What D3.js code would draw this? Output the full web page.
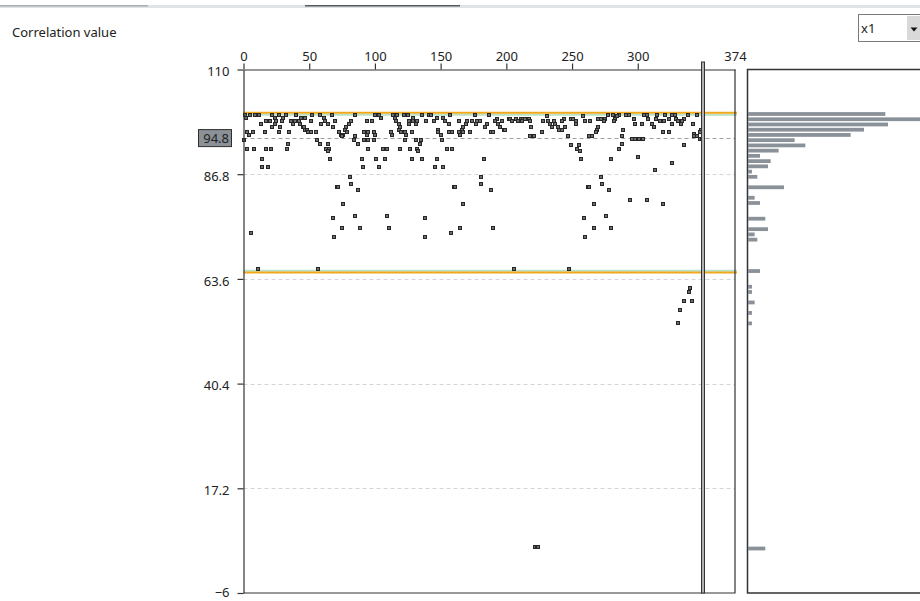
<!DOCTYPE html>
<html>
<head>
<meta charset="utf-8">
<title>Correlation value</title>
<script src="https://cdn.jsdelivr.net/npm/d3@7"></script>
<style>
  body { margin: 0; background: #fff; }
  svg text { font-family: "Noto Sans", "DejaVu Sans", sans-serif; fill: #222; }
</style>
</head>
<body>
<svg id="mainsvg" width="920" height="601"></svg>
<script>
// ---- data ----
const xTicks = [0, 50, 100, 150, 200, 250, 300, 374];
const yTicks = [110, 86.8, 63.6, 40.4, 17.2, -6];
const cursorValue = 94.8;
const cursorIndex = 350;
const upperLimit = 100.4, upperLimitGreen = 100.0;
const lowerLimit = 65.0, lowerLimitGreen = 65.4;

// scatter points: [sample index, correlation value]
const scatterPoints = [
  // 0 - 190
  [1,99.84],[5,99.84],[9,99.84],[12,99.84],[22,99.84],[27,99.84],[32,99.84],[40,99.84],[52,99.84],[58,99.84],[67,99.84],[85,99.84],
  [100,99.84],[103,99.84],[114,99.84],[117,99.84],[122,99.84],[125,99.84],[136,99.84],[141,99.84],[143,99.84],[157,99.84],[176,99.84],[187,99.84],
  [2,99.25],[24,99.25],[30,99.25],[44,99.25],[47,99.25],[61,99.25],[105,99.25],[115,99.25],[129,99.25],[147,99.25],[152,99.25],
  [17,98.51],[20,98.51],[25,98.51],[29,98.51],[36,98.51],[39,98.51],[42,98.51],[51,98.51],[62,98.51],[70,98.51],[82,98.51],[94,98.51],[98,98.51],
  [116,98.51],[126,98.51],[129,98.51],[132,98.51],[139,98.51],[145,98.51],[153,98.51],[164,98.51],[170,98.51],[174,98.51],[178,98.51],[180,98.51],
  [13,97.92],[24,97.92],[38,97.92],[43,97.92],[59,97.92],[64,97.92],[80,97.92],[118,97.92],[126,97.92],[131,97.92],[156,97.92],[169,97.92],[177,97.92],[185,97.92],
  [22,97.18],[28,97.18],[45,97.18],[46,97.18],[68,97.18],[78,97.18],[119,97.18],[167,97.18],[184,97.18],
  [47,96.65],[48,96.65],[77,96.65],[118,96.65],[148,96.65],[166,96.65],
  [3,96.07],[7,96.07],[16,96.07],[27,96.07],[35,96.07],[49,96.07],[51,96.07],[55,96.07],[73,96.07],[79,96.07],[92,96.07],[95,96.07],
  [99,96.07],[112,96.07],[120,96.07],[123,96.07],[128,96.07],[148,96.07],[156,96.07],[159,96.07],[164,96.07],[167,96.07],[172,96.07],
  [4,95.54],[74,95.54],[76,95.54],[94,95.54],[100,95.54],[113,95.54],[124,95.54],[150,95.54],[165,95.54],
  [75,95.18],[85,95.18],
  [0,94.44],[56,94.44],[84,94.44],[92,94.44],[95,94.44],[99,94.44],[123,94.44],[131,94.44],[135,94.44],[151,94.44],
  [34,93.55],[58,93.55],[64,93.55],[87,93.55],[134,93.55],
  [3,92.44],[8,92.44],[17,92.44],[21,92.44],[33,92.44],[63,92.44],[65,92.44],[95,92.44],[106,92.44],[109,92.44],[119,92.44],[127,92.44],[132,92.44],[155,92.44],[159,92.44],
  [64,91.86],[133,91.86],
  [14,90.16],[66,90.16],[90,90.16],[101,90.16],[108,90.16],[128,90.16],[136,90.16],[147,90.16],[183,90.16],
  [14,88.31],[19,88.31],[91,88.31],[103,88.31],[146,88.31],[152,88.31],
  // 188 - 350
  [277,99.98],[281,99.98],[286,99.98],[291,99.98],[293,99.98],[305,99.98],[307,99.98],[315,99.98],[321,99.98],[326,99.98],[328,99.98],[338,99.98],[345,99.98],
  [231,99.62],[258,99.62],[284,99.62],
  [193,99.1],[202,99.1],[203,99.1],[207,99.1],[211,99.1],[213,99.1],[214,99.1],[217,99.1],[244,99.1],[249,99.1],[251,99.1],[270,99.1],
  [272,99.1],[275,99.1],[283,99.1],[297,99.1],[308,99.1],[314,99.1],[324,99.1],[329,99.1],[335,99.1],
  [191,98.51],[197,98.51],[204,98.51],[209,98.51],[212,98.51],[218,98.51],[228,98.51],[232,98.51],[236,98.51],[242,98.51],
  [253,98.51],[260,98.51],[264,98.51],[274,98.51],[282,98.51],[317,98.51],[320,98.51],[331,98.51],[334,98.51],
  [194,97.92],[233,97.92],[237,97.92],[253,97.92],[298,97.92],[303,97.92],[311,97.92],[326,97.92],[333,97.92],[342,97.92],
  [195,97.18],[219,97.18],[235,97.18],[239,97.18],[245,97.18],[270,97.18],[312,97.18],
  [198,96.65],[199,96.65],[240,96.65],[242,96.65],[269,96.65],[289,96.65],[348,96.65],
  [188,96.07],[190,96.07],[227,96.07],[268,96.07],[319,96.07],[324,96.07],[347,96.07],
  [343,95.7],
  [218,95.18],[221,95.18],[247,95.18],[263,95.18],[265,95.18],[288,95.18],[343,95.18],[345,95.18],
  [296,94.59],[298,94.59],[300,94.59],[301,94.59],[304,94.59],[347,94.59],[349,94.59],
  [288,93.55],[249,93.19],[255,93.19],[335,93.19],[254,92.44],[286,92.44],[256,91.86],
  [300,90.53],[280,90.16],[257,90.16],[326,89.27],[313,87.78],
  // lower outliers
  [81,86.2],[181,86.2],[272,86.2],[82,84.6],[181,84.6],[273,84.6],
  [71,83.9],[72,83.9],[160,83.9],[161,83.9],[262,83.9],[263,83.9],[87,83.4],[188,83.4],[278,83.4],
  [294,81.0],[307,81.0],[76,80.2],[167,80.2],[267,80.2],[319,80.2],
  [68,77.2],[138,77.2],[259,77.2],[85,77.5],[109,77.5],[276,77.5],
  [75,74.9],[89,74.9],[111,74.9],[165,74.9],[190,74.9],[267,74.9],[280,74.9],
  [6,73.8],[158,73.8],[69,72.9],[138,72.9],[260,72.9],
  [11,65.9],[57,65.9],[206,65.9],[248,65.9],
  [340,61.6],[339,60.7],[335,58.7],[341,58.7],[332,56.6],[331,53.8],
  [222,4.3],[223,4.3],[224,4.3]
];

// histogram: bins of 1.16 counted from the top (110), with counts
const binWidth = 1.16;
const histBin =   [8, 9, 10, 11, 12, 13, 14, 15, 16, 17, 18, 19, 20, 22, 24, 25, 28, 30, 31, 32, 38, 41, 42, 44, 46, 48, 91];
const histCount = [51, 64, 52, 43, 38, 17, 21, 11, 4, 8, 7, 1, 3, 13, 2, 4, 6, 7, 2, 3, 4, 1, 1, 2, 1, 1, 6];

// ---- drawing ----
const svg = d3.select('#mainsvg');
const plot = { left: 243.5, right: 735, top: 69.5, bottom: 593 };
const hist = { left: 747.5, right: 921 };

const xScale = d3.scaleLinear().domain([0, 374]).range([plot.left, plot.right]);
const yScale = d3.scaleLinear().domain([-6, 110]).range([plot.bottom, plot.top]);
const countScale = d3.scaleLinear().domain([0, 64]).range([1.3, 172]);

// window chrome on top
svg.append('rect').attr('x', 0).attr('y', 5).attr('width', 920).attr('height', 3).attr('fill', '#dfe2e6');
svg.append('rect').attr('x', 0).attr('y', 5).attr('width', 148).attr('height', 1.5).attr('fill', '#a9adb2');
svg.append('rect').attr('x', 305).attr('y', 5).attr('width', 155).attr('height', 1.5).attr('fill', '#56595d');

svg.append('text').attr('x', 12).attr('y', 37).attr('font-size', 13).text('Correlation value');

// zoom dropdown
const dd = svg.append('g').attr('transform', 'translate(858,14)');
dd.append('rect').attr('x', 0.5).attr('y', 0.5).attr('width', 70).attr('height', 27)
  .attr('fill', '#fff').attr('stroke', '#7a7a7a');
dd.append('rect').attr('x', 49).attr('y', 2).attr('width', 16).attr('height', 24).attr('fill', '#d9d9d9');
dd.append('path').attr('d', 'M52.5,13.5 L59.5,13.5 L56,17.5 Z').attr('fill', '#111');
dd.append('text').attr('x', 3).attr('y', 19).attr('font-size', 13).text('x1');

// grid lines
const gridG = svg.append('g');
gridG.selectAll('line').data(yTicks.filter(d => d > -6 && d < 110)).enter().append('line')
  .attr('x1', plot.left).attr('x2', plot.right)
  .attr('y1', d => Math.round(yScale(d)) + 0.5).attr('y2', d => Math.round(yScale(d)) + 0.5)
  .attr('stroke', '#d4d4dc').attr('stroke-dasharray', '4,3');
gridG.append('line')
  .attr('x1', plot.left).attr('x2', plot.right)
  .attr('y1', Math.round(yScale(cursorValue)) + 0.5).attr('y2', Math.round(yScale(cursorValue)) + 0.5)
  .attr('stroke', '#a0a0a0').attr('stroke-dasharray', '4,3');

// limit lines
const limits = [
  { v: upperLimitGreen, c: '#b9e2c4' }, { v: lowerLimitGreen, c: '#b9e2c4' },
  { v: upperLimit, c: '#f2a81d' }, { v: lowerLimit, c: '#f2a81d' }
];
svg.append('g').selectAll('line').data(limits).enter().append('line')
  .attr('x1', plot.left).attr('x2', plot.right + 2)
  .attr('y1', d => yScale(d.v)).attr('y2', d => yScale(d.v))
  .attr('stroke', d => d.c).attr('stroke-width', 2);

// scatter
svg.append('g').selectAll('rect').data(scatterPoints).enter().append('rect')
  .attr('x', d => Math.round(xScale(d[0])) - 1.5)
  .attr('y', d => Math.round(yScale(d[1])) - 1.5)
  .attr('width', 3).attr('height', 3)
  .attr('fill', '#6e6e6e').attr('stroke', '#262626').attr('stroke-width', 1);

// axes
const xAxis = d3.axisTop(xScale).tickValues(xTicks).tickSize(6).tickSizeOuter(0).tickPadding(3);
const xAxisG = svg.append('g').attr('transform', `translate(0,${plot.top})`).call(xAxis);
xAxisG.selectAll('.tick line').filter(d => d === 374).remove();

const yAxis = d3.axisLeft(yScale).tickValues(yTicks).tickFormat(d3.format('')).tickSize(6).tickSizeOuter(0).tickPadding(8);
const yAxisG = svg.append('g').attr('transform', `translate(${plot.left},0)`).call(yAxis);
yAxisG.selectAll('.tick text').attr('y', d => d === -6 ? -1 : 2);

[xAxisG, yAxisG].forEach(g => {
  g.attr('font-family', null).attr('font-size', 13);
  g.selectAll('path, line').attr('stroke', '#333').attr('stroke-width', 1.2);
  g.selectAll('text').attr('fill', '#222');
});

// frame right / bottom
svg.append('path')
  .attr('d', `M${plot.right},${plot.top} V${plot.bottom} H${plot.left}`)
  .attr('fill', 'none').attr('stroke', '#333').attr('stroke-width', 1.2);

// cursor (double vertical line)
const cx = Math.round(xScale(cursorIndex));
svg.append('rect').attr('x', cx - 1.5).attr('y', 62).attr('width', 3).attr('height', plot.bottom - 62)
  .attr('fill', '#b0b0b0').attr('stroke', '#333').attr('stroke-width', 1);

// cursor value label on y axis
const cy = yScale(cursorValue);
svg.append('rect').attr('x', 198.5).attr('y', cy - 8.5).attr('width', 33).attr('height', 17)
  .attr('fill', '#8b9196').attr('stroke', '#2e2e2e');
svg.append('text').attr('x', 229).attr('y', cy).attr('dy', '0.35em').attr('text-anchor', 'end')
  .attr('font-size', 13).attr('fill', '#1c2430').text(d3.format('')(cursorValue));

// histogram panel
svg.append('path')
  .attr('d', `M${hist.right},${plot.top} H${hist.left} V${plot.bottom} H${hist.right}`)
  .attr('fill', 'none').attr('stroke', '#333').attr('stroke-width', 1.5);
const binPx = yScale(110 - binWidth) - yScale(110);
svg.append('g').selectAll('rect').data(histBin).enter().append('rect')
  .attr('x', hist.left + 0.5)
  .attr('y', (d, i) => yScale(110 - binWidth * d) + binPx * 0.14)
  .attr('height', binPx * 0.72)
  .attr('width', (d, i) => countScale(histCount[i]))
  .attr('fill', '#8a9198');
</script>
</body>
</html>
